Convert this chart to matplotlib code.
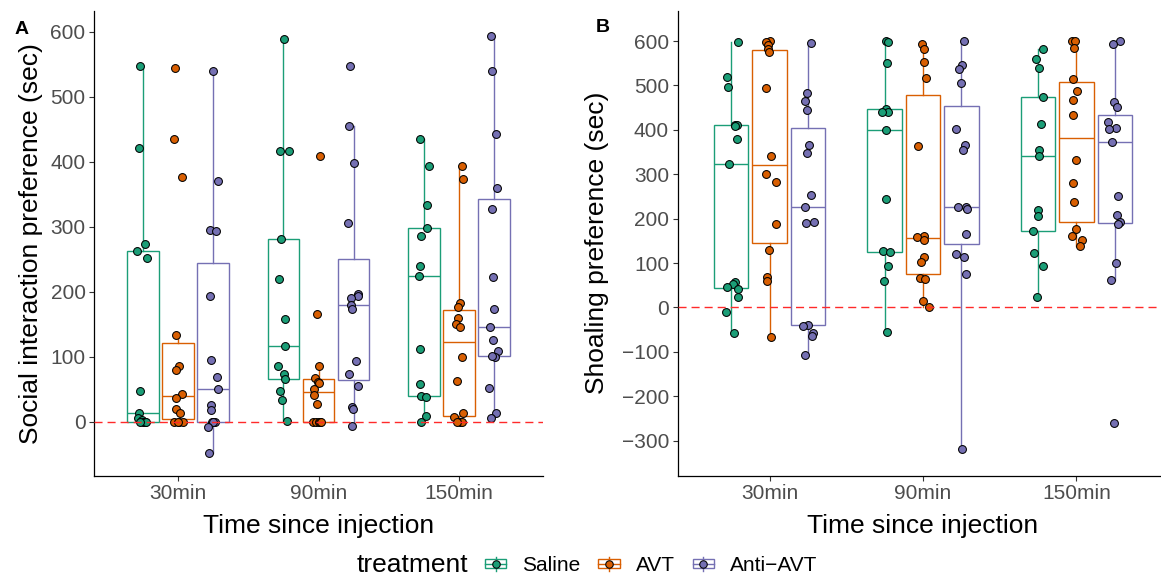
import matplotlib
matplotlib.use('Agg')
import matplotlib.pyplot as plt
import numpy as np
from matplotlib.legend_handler import HandlerBase
from matplotlib.patches import Rectangle
from matplotlib.lines import Line2D

plt.rcParams['font.family'] = ['Liberation Sans', 'DejaVu Sans']

times = ['30min', '90min', '150min']
treatments = ['Saline', 'AVT', 'Anti-AVT']
legend_labels = ['Saline', 'AVT', 'Anti\u2212AVT']
colors = ['#1B9E77', '#D95F02', '#7570B3']

# ---------------- Panel A: social interaction preference (sec) ----------------
social_saline_30 = [547, 421, 273, 263, 252, 47, 13, 5, 2, 0, 0, 0, 0]
social_avt_30 = [544, 435, 376, 133, 86, 79, 42, 37, 20, 14, 0, 0, 0, 0]
social_anti_30 = [539, 370, 295, 294, 193, 95, 69, 50, 26, 18, 0, 0, 0, -8, -48]
social_saline_90 = [589, 417, 416, 281, 219, 158, 117, 85, 73, 65, 47, 34, 1]
social_avt_90 = [409, 165, 85, 67, 61, 60, 50, 41, 27, 0, 0, 0, 0, 0]
social_anti_90 = [547, 455, 398, 305, 197, 194, 190, 179, 173, 93, 73, 55, 23, 20, -6]
social_saline_150 = [435, 393, 334, 298, 285, 240, 224, 112, 58, 39, 38, 9, 0]
social_avt_150 = [393, 374, 183, 176, 159, 150, 145, 100, 62, 13, 7, 0, 0, 0]
social_anti_150 = [593, 540, 442, 359, 327, 223, 173, 145, 126, 109, 100, 101, 52, 14, 5]

# horizontal jitter of the points (category units)
social_saline_30_dx = [-0.02, -0.03, 0.01, -0.04, 0.03, -0.02, -0.03, -0.035, -0.01, 0.01, 0.0, 0.02, -0.02]
social_avt_30_dx = [-0.021, -0.033, 0.024, -0.016, 0.007, -0.016, 0.029, -0.019, -0.016, 0.014, -0.031, 0.005, 0.036, 0.0]
social_anti_30_dx = [-0.005, 0.035, -0.024, 0.016, -0.024, -0.015, 0.028, 0.031, -0.017, -0.017, -0.012, 0.011, 0.0, -0.038, -0.029]
social_saline_90_dx = [0.001, -0.025, 0.039, -0.016, -0.032, 0.011, 0.013, -0.039, 0.006, 0.011, -0.023, -0.011, 0.029]
social_avt_90_dx = [0.01, -0.011, 0.003, -0.024, -0.007, 0.005, -0.029, -0.033, -0.009, -0.036, -0.019, 0.0, 0.012, 0.02]
social_anti_90_dx = [-0.026, -0.036, 0.004, -0.038, 0.031, 0.031, -0.015, -0.015, -0.012, 0.014, -0.036, 0.028, -0.01, -0.003, -0.01]
social_saline_150_dx = [-0.026, 0.038, 0.02, 0.024, -0.023, -0.026, -0.037, -0.026, -0.028, -0.016, 0.017, 0.015, -0.016]
social_avt_150_dx = [0.021, 0.033, 0.009, -0.005, -0.009, -0.021, 0.012, 0.026, -0.016, 0.031, -0.033, 0.007, 0.024, -0.01]
social_anti_150_dx = [-0.022, -0.015, 0.016, 0.019, -0.015, -0.003, 0.001, -0.031, -0.006, 0.026, 0.006, -0.01, -0.034, 0.014, -0.024]

# ---------------- Panel B: shoaling preference (sec) ----------------
shoal_saline_30 = [597, 518, 497, 411, 410, 408, 379, 324, 57, 52, 47, 42, 23, -10, -58]
shoal_avt_30 = [600, 597, 591, 582, 575, 494, 342, 301, 283, 187, 130, 69, 60, -66]
shoal_anti_30 = [595, 484, 466, 445, 365, 348, 253, 226, 192, 191, -39, -42, -57, -64, -107]
shoal_saline_90 = [599, 598, 550, 448, 441, 440, 400, 245, 128, 124, 93, 60, -55]
shoal_avt_90 = [593, 582, 552, 517, 364, 162, 159, 153, 114, 103, 66, 65, 15, 0]
shoal_anti_90 = [599, 546, 536, 505, 402, 367, 354, 226, 226, 222, 166, 121, 114, 76, -319]
shoal_saline_150 = [583, 560, 539, 473, 413, 355, 340, 219, 206, 172, 122, 94, 24]
shoal_avt_150 = [599, 599, 585, 514, 487, 467, 433, 332, 280, 238, 177, 160, 151, 139]
shoal_anti_150 = [599, 594, 463, 451, 418, 404, 402, 372, 251, 208, 193, 187, 101, 63, -259]

shoal_saline_30_dx = [0.043, -0.029, -0.022, 0.028, 0.039, 0.022, 0.037, -0.013, 0.023, 0.01, -0.029, 0.043, 0.043, -0.035, 0.02]
shoal_avt_30_dx = [0.0, -0.02, -0.011, -0.008, -0.002, -0.026, 0.008, -0.02, 0.041, 0.044, -0.005, -0.018, -0.015, 0.011]
shoal_anti_30_dx = [0.019, -0.007, -0.022, -0.005, 0.01, -0.005, 0.023, -0.022, 0.037, -0.014, -0.001, -0.029, 0.03, 0.025, -0.02]
shoal_saline_90_dx = [0.01, 0.025, 0.014, 0.012, 0.021, -0.02, 0.008, 0.012, -0.012, 0.037, 0.021, -0.003, 0.017]
shoal_avt_90_dx = [-0.009, 0.006, 0.008, 0.019, -0.035, 0.005, -0.037, 0.006, 0.008, -0.014, -0.022, 0.01, -0.001, 0.038]
shoal_anti_90_dx = [0.014, 0.003, -0.016, -0.003, -0.033, 0.021, 0.008, -0.023, 0.029, 0.036, 0.027, -0.033, 0.014, 0.029, 0.001]
shoal_saline_150_dx = [0.034, -0.012, 0.003, 0.029, 0.018, 0.008, 0.003, -0.003, -0.001, -0.036, -0.027, 0.029, -0.005]
shoal_avt_150_dx = [-0.029, -0.007, -0.018, -0.025, 0.001, -0.02, -0.025, -0.003, -0.02, -0.014, -0.001, -0.031, 0.036, 0.021]
shoal_anti_150_dx = [0.031, -0.012, -0.008, 0.014, -0.042, 0.01, -0.036, -0.016, 0.023, 0.012, 0.033, 0.02, 0.01, -0.025, -0.006]

social = {
    'Saline': [social_saline_30, social_saline_90, social_saline_150],
    'AVT': [social_avt_30, social_avt_90, social_avt_150],
    'Anti-AVT': [social_anti_30, social_anti_90, social_anti_150],
}
social_dx = {
    'Saline': [social_saline_30_dx, social_saline_90_dx, social_saline_150_dx],
    'AVT': [social_avt_30_dx, social_avt_90_dx, social_avt_150_dx],
    'Anti-AVT': [social_anti_30_dx, social_anti_90_dx, social_anti_150_dx],
}
shoal = {
    'Saline': [shoal_saline_30, shoal_saline_90, shoal_saline_150],
    'AVT': [shoal_avt_30, shoal_avt_90, shoal_avt_150],
    'Anti-AVT': [shoal_anti_30, shoal_anti_90, shoal_anti_150],
}
shoal_dx = {
    'Saline': [shoal_saline_30_dx, shoal_saline_90_dx, shoal_saline_150_dx],
    'AVT': [shoal_avt_30_dx, shoal_avt_90_dx, shoal_avt_150_dx],
    'Anti-AVT': [shoal_anti_30_dx, shoal_anti_90_dx, shoal_anti_150_dx],
}

W, H = 1161, 579
fig = plt.figure(figsize=(W / 100, H / 100), dpi=100)

dodge = [-0.25, 0.0, 0.25]
box_w = 0.225
LW = 1.0


def draw_panel(ax, data, jit, ylim, yticks, ylabel, ylab_x):
    for ti in range(len(times)):
        for gi, tr in enumerate(treatments):
            vals = np.asarray(data[tr][ti], dtype=float)
            pos = ti + 1 + dodge[gi]
            c = colors[gi]
            ax.boxplot([vals], positions=[pos], widths=box_w, whis=1.5,
                       showfliers=False, showcaps=False, patch_artist=True,
                       manage_ticks=False,
                       boxprops=dict(facecolor='white', edgecolor=c, linewidth=LW),
                       whiskerprops=dict(color=c, linewidth=LW),
                       medianprops=dict(color=c, linewidth=LW),
                       zorder=2)
            ax.scatter(pos + np.asarray(jit[tr][ti]), vals, s=32, c=c,
                       edgecolors='black', linewidths=0.75, zorder=3)
    ax.axhline(0, color='#FF2A2A', ls=(0, (5.8, 3.6)), lw=1.0, zorder=4)
    ax.set_xlim(0.4, 3.6)
    ax.set_ylim(*ylim)
    ax.set_xticks([1, 2, 3])
    ax.set_xticklabels(times)
    ax.set_yticks(yticks)
    for s in ['top', 'right']:
        ax.spines[s].set_visible(False)
    for s in ['left', 'bottom']:
        ax.spines[s].set_linewidth(0.9)
        ax.spines[s].set_color('black')
    ax.tick_params(axis='both', length=3.6, width=0.8, color='#333333',
                   labelcolor='#4D4D4D', labelsize=15, pad=2.5)
    ax.set_xlabel('Time since injection', fontsize=19)
    ax.xaxis.set_label_coords(0.5, -0.083)
    ax.set_ylabel(ylabel, fontsize=19)
    ax.yaxis.set_label_coords(ylab_x, 0.5)


bottom = 1 - 475.5 / H
height = (475.5 - 11) / H

axA = fig.add_axes([94 / W, bottom, (543 - 94) / W, height])
draw_panel(axA, social, social_dx, (-82.8, 631.8), np.arange(0, 601, 100),
           'Social interaction preference (sec)', -0.114)

axB = fig.add_axes([677.5 / W, bottom, (1168.5 - 677.5) / W, height])
draw_panel(axB, shoal, shoal_dx, (-378.3, 667.6), np.arange(-300, 601, 100),
           'Shoaling preference (sec)', -0.139)

fig.text(22 / W, 1 - 30 / H, 'A', fontsize=14, fontweight='bold', ha='center', va='center')
fig.text(603 / W, 1 - 28 / H, 'B', fontsize=14, fontweight='bold', ha='center', va='center')


class BoxKeyHandler(HandlerBase):
    def create_artists(self, legend, orig_handle, xdescent, ydescent, width, height, fontsize, trans):
        c = orig_handle.get_color()
        x0, y0 = -xdescent, -ydescent
        bw = width * 0.75
        bx = x0 + (width - bw) / 2
        xm = x0 + width / 2
        rect = Rectangle((bx, y0 + 0.25 * height), bw, 0.5 * height, facecolor='white',
                         edgecolor=c, lw=LW, transform=trans)
        med = Line2D([bx, bx + bw], [y0 + 0.5 * height] * 2, color=c, lw=LW, transform=trans)
        w1 = Line2D([xm, xm], [y0 + 0.1 * height, y0 + 0.25 * height], color=c, lw=LW, transform=trans)
        w2 = Line2D([xm, xm], [y0 + 0.75 * height, y0 + 0.9 * height], color=c, lw=LW, transform=trans)
        pt = Line2D([xm], [y0 + 0.5 * height], marker='o', ms=5.4, mfc=c, mec='black',
                    mew=0.75, ls='', transform=trans)
        return [rect, med, w1, w2, pt]


handles = [Line2D([], [], color=c) for c in colors]
fig.legend(handles, legend_labels, handler_map={Line2D: BoxKeyHandler()},
           loc='center left', bbox_to_anchor=(481.5 / W, 1 - 565 / H), ncol=3,
           frameon=False, fontsize=15, handlelength=1.35, handleheight=0.94,
           handletextpad=0.6, columnspacing=0.7, borderpad=0, borderaxespad=0)
fig.text(357 / W, 1 - 565 / H, 'treatment', fontsize=19, ha='left', va='center')

fig.savefig('out.png', dpi=100)
